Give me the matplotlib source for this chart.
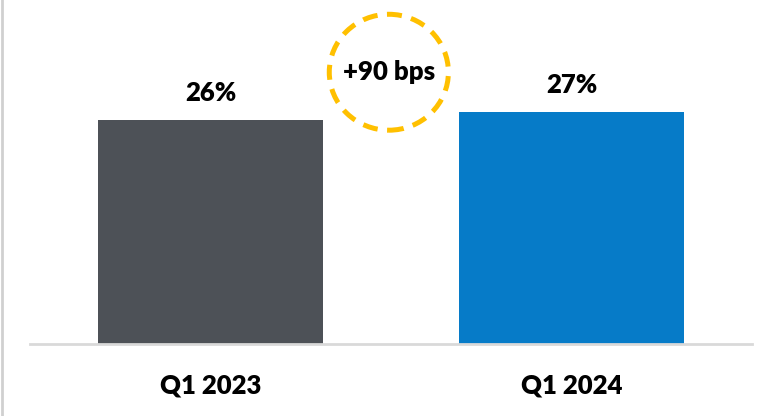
import matplotlib.pyplot as plt
from matplotlib.patches import Ellipse
from matplotlib.lines import Line2D

# data
quarters = ["Q1 2023", "Q1 2024"]
margin = [26.1, 27.0]
bar_labels = ["26%", "27%"]
change_label = "+90 bps"
colors = ["#4D5157", "#067BC8"]

plt.rcParams['font.family'] = ['Lato', 'DejaVu Sans']
W = "heavy"

fig = plt.figure(figsize=(7.57, 4.16), dpi=100)
ax = fig.add_axes([30/757, 72/416, 722/757, 344/416])

x = range(len(quarters))
ax.bar(x, margin, width=0.626, color=colors)
for i in x:
    ax.text(i, margin[i] + 1.7, bar_labels[i], ha="center", va="bottom",
            fontsize=18.5, fontweight=W, color="black")

ax.set_xlim(-0.5, 1.5)
ax.set_ylim(0, 40)
ax.set_yticks([])
ax.set_xticks(list(x))
ax.set_xticklabels(quarters, fontsize=18.5, fontweight=W)
ax.tick_params(axis="x", length=0, pad=21)
for s in ["top", "right", "left"]:
    ax.spines[s].set_visible(False)
ax.spines["bottom"].set_color("#D9D9D9")
ax.spines["bottom"].set_linewidth(2)

# dashed circle with the change
circ = Ellipse((0.497, 0.79), 0.165, 0.337, transform=ax.transAxes,
               fill=False, edgecolor="#FFC000", linewidth=3.6,
               linestyle=(0, (3.0, 1.9)), clip_on=False)
ax.add_patch(circ)
ax.text(0.497, 0.79, change_label, transform=ax.transAxes, ha="center",
        va="center", fontsize=18.5, fontweight=W, color="black")

# thin frame line on the left edge
fig.add_artist(Line2D([2/757, 2/757], [0, 1], transform=fig.transFigure,
                      color="#D0D0D0", linewidth=2))

fig.savefig("out.png", dpi=100)
